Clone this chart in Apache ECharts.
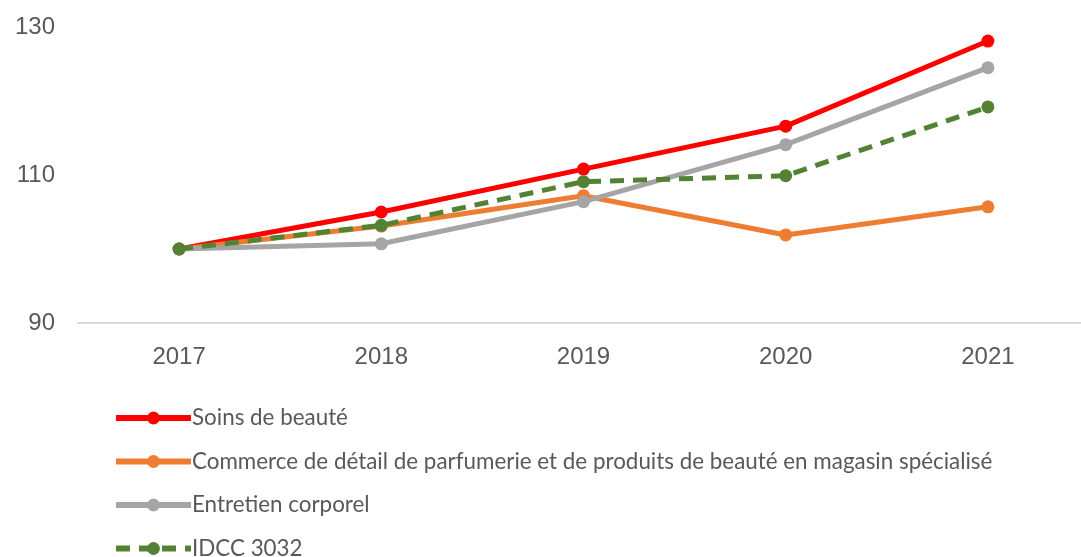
<!DOCTYPE html>
<html>
<head>
<meta charset="utf-8">
<script src="https://cdn.jsdelivr.net/npm/echarts@6/dist/echarts.min.js"></script>
<style>
  html, body { margin: 0; padding: 0; background: #fff; }
  #chart { width: 1081px; height: 557px; }
</style>
</head>
<body>
<div id="chart"></div>
<script>
// années
const years = ['2017', '2018', '2019', '2020', '2021'];
// indices base 100 en 2017
const soins = [100, 105.0, 110.8, 116.6, 128.1];
const commerce = [100, 103.1, 107.2, 101.9, 105.7];
const entretien = [100, 100.7, 106.4, 114.1, 124.5];
const idcc = [100, 103.2, 109.1, 109.9, 119.2];

const names = [
  'Soins de beauté',
  'Commerce de détail de parfumerie et de produits de beauté en magasin spécialisé',
  'Entretien corporel',
  'IDCC 3032'
];

var chart = echarts.init(document.getElementById('chart'));

function lineSerie(name, data, color, dashed) {
  return {
    name: name,
    type: 'line',
    data: data,
    symbol: 'circle',
    symbolSize: 13,
    itemStyle: { color: color },
    lineStyle: { color: color, width: 5, type: dashed ? [14, 9] : 'solid' },
    emphasis: { disabled: true },
    z: dashed ? 5 : 2
  };
}

var option = {
  animation: false,
  grid: { left: 78, top: 27, width: 1011, height: 296, outerBoundsMode: 'none' },
  legend: {
    orient: 'vertical',
    left: 113,
    top: 407,
    height: 160,
    padding: 0,
    itemWidth: 75,
    itemHeight: 16,
    itemGap: 21.5,
    lineStyle: { width: 6 },
    textStyle: { fontFamily: 'Lato', fontSize: 22.4, color: '#595959', padding: [0, 0, 0, -4] },
    data: names
  },
  xAxis: {
    type: 'category',
    data: years,
    boundaryGap: true,
    axisLine: { lineStyle: { color: '#d9d9d9', width: 2 } },
    axisTick: { show: false },
    axisLabel: { fontFamily: 'Liberation Sans', fontSize: 24, color: '#595959', margin: 22 }
  },
  yAxis: {
    type: 'value',
    min: 90,
    max: 130,
    interval: 20,
    splitLine: { show: false },
    axisLine: { show: false },
    axisTick: { show: false },
    axisLabel: { fontFamily: 'Liberation Sans', fontSize: 24, color: '#595959', margin: 23 }
  },
  series: [
    lineSerie(names[0], soins, '#ff0000', false),
    lineSerie(names[1], commerce, '#ed7d31', false),
    lineSerie(names[2], entretien, '#a5a5a5', false),
    lineSerie(names[3], idcc, '#548235', true)
  ]
};

chart.setOption(option);
</script>
</body>
</html>
